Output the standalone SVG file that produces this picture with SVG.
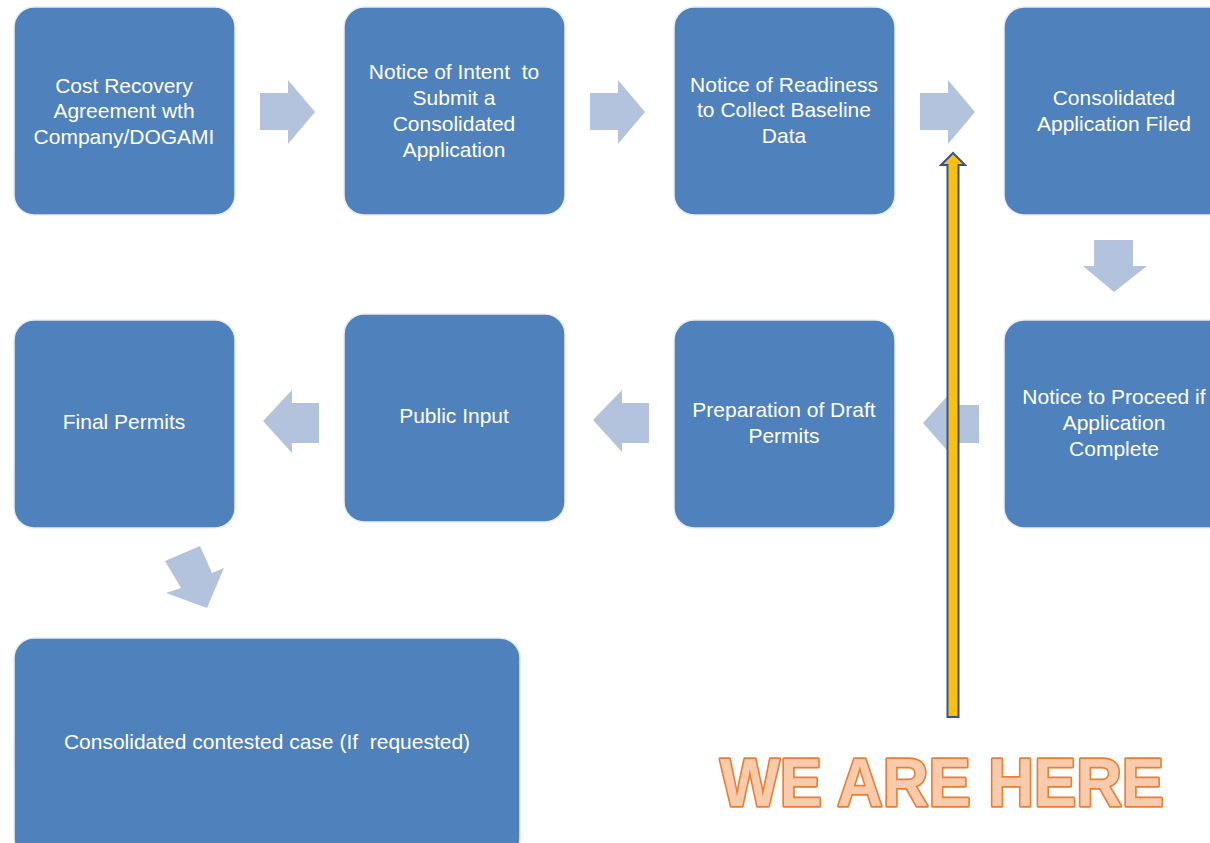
<svg xmlns="http://www.w3.org/2000/svg" width="1210" height="843" viewBox="0 0 1210 843">
<style>
.box{fill:#4F81BD;stroke:#E8EEF7;stroke-width:1.5}
.t{font-family:"Liberation Sans",Arial,sans-serif;font-size:21px;fill:#FFFFFF;text-anchor:middle}
.arr{fill:#B4C3DD}
.big{font-family:"Liberation Sans",Arial,sans-serif;font-size:68px;font-weight:bold;fill:#F8CBAD;stroke:#ED7D31;stroke-width:3.5;stroke-linejoin:round;paint-order:stroke}
</style>
<rect width="1210" height="843" fill="#FFFFFF"/>
<g id="connectors">
<polygon class="arr" points="260,93 288,93 288,80 315,112 288,144 288,130 260,130"/>
<polygon class="arr" points="590,93 618,93 618,80 645,112 618,144 618,130 590,130"/>
<polygon class="arr" points="920,93 948,93 948,80 975,112 948,144 948,130 920,130"/>
<polygon class="arr" points="1094,240 1133,240 1133,266 1147,266 1114,292 1083,266 1094,266"/>
<polygon class="arr" points="979,405 951,405 951,392 923,423 951,455 951,443 979,443"/>
<polygon class="arr" points="649,403 622,403 622,390 593,420 622,452 622,443 649,443"/>
<polygon class="arr" points="319,403 292,403 292,390 263,421 292,453 292,443 319,443"/>
<polygon class="arr" points="165,561 200,546 212,573 224,568 207,608 166,593 181,588"/>
</g>
<g id="n1"><rect class="box" x="14" y="7" width="221" height="208" rx="20"/>
<text class="t" x="124" y="93">Cost Recovery</text><text class="t" x="124" y="118">Agreement wth</text><text class="t" x="124" y="144">Company/DOGAMI</text></g>
<g id="n2"><rect class="box" x="344" y="7" width="221" height="208" rx="20"/>
<text class="t" x="454" y="79" xml:space="preserve">Notice of Intent  to</text><text class="t" x="454" y="105">Submit a</text><text class="t" x="454" y="131">Consolidated</text><text class="t" x="454" y="157">Application</text></g>
<g id="n3"><rect class="box" x="674" y="7" width="221" height="208" rx="20"/>
<text class="t" x="784" y="92">Notice of Readiness</text><text class="t" x="784" y="117">to Collect Baseline</text><text class="t" x="784" y="143">Data</text></g>
<g id="n4"><rect class="box" x="1004" y="7" width="230" height="208" rx="20"/>
<text class="t" x="1114" y="105">Consolidated</text><text class="t" x="1114" y="131">Application Filed</text></g>
<g id="n8"><rect class="box" x="1004" y="320" width="230" height="208" rx="20"/>
<text class="t" x="1114" y="404">Notice to Proceed if</text><text class="t" x="1114" y="430">Application</text><text class="t" x="1114" y="456">Complete</text></g>
<g id="n7"><rect class="box" x="674" y="320" width="221" height="208" rx="20"/>
<text class="t" x="784" y="417">Preparation of Draft</text><text class="t" x="784" y="443">Permits</text></g>
<g id="n6"><rect class="box" x="344" y="314" width="221" height="208" rx="20"/>
<text class="t" x="454" y="423">Public Input</text></g>
<g id="n5"><rect class="box" x="14" y="320" width="221" height="208" rx="20"/>
<text class="t" x="124" y="429">Final Permits</text></g>
<g id="n9"><rect class="box" x="14" y="638" width="506" height="220" rx="20"/>
<text class="t" x="267" y="749" xml:space="preserve">Consolidated contested case (If  requested)</text></g>
<g id="marker">
<polygon points="947.5,717 947.5,165 941,165 953,153 965,165 958.5,165 958.5,717" fill="#FFC000" stroke="#2F5597" stroke-width="2" stroke-linejoin="miter"/>
<text class="big" x="720" y="806" textLength="444" lengthAdjust="spacingAndGlyphs">WE ARE HERE</text>
</g>
</svg>
